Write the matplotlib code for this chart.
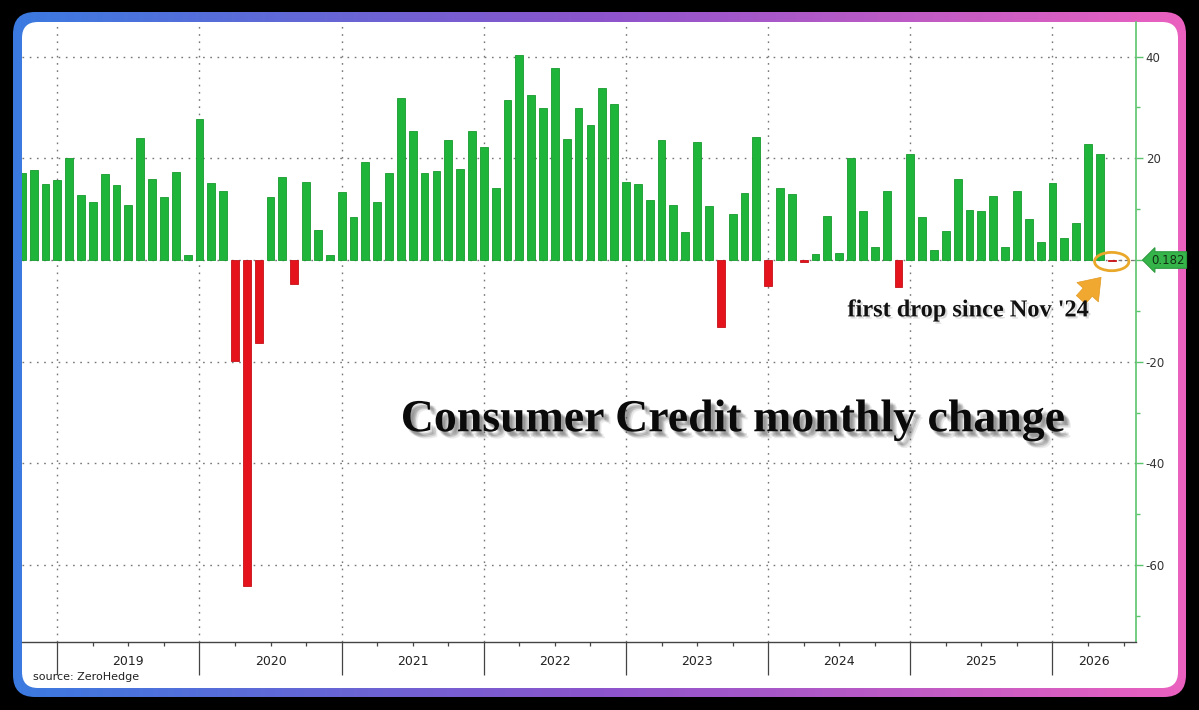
import numpy as np
import pandas as pd
import matplotlib
matplotlib.use("Agg")
import matplotlib.pyplot as plt
import matplotlib.transforms as mtransforms
import matplotlib.patheffects as pe
from matplotlib.patches import FancyBboxPatch, Ellipse

# ---------------- data ----------------
months = pd.period_range("2018-09", "2026-05", freq="M")
values = [
    17.1, 17.7, 15.0, 15.7,
    20.0, 12.7, 11.5, 16.9, 14.8, 10.9, 24.0, 15.9, 12.3, 17.4, 1.0, 27.8,
    15.2, 13.5, -19.8, -64.1, -16.3, 12.3, 16.4, -4.7, 15.4, 5.9, 1.0, 13.3,
    8.5, 19.2, 11.5, 17.2, 31.8, 25.3, 17.2, 17.5, 23.6, 17.8, 25.3, 22.3,
    14.2, 31.4, 40.4, 32.4, 29.9, 37.7, 23.7, 29.9, 26.6, 33.8, 30.6, 15.4,
    15.0, 11.9, 23.6, 10.9, 5.6, 23.3, 10.7, -13.1, 9.1, 13.2, 24.1, -5.1,
    14.2, 12.9, -0.3, 1.2, 8.6, 1.4, 20.0, 9.7, 2.5, 13.6, -5.4, 20.9,
    8.5, 2.0, 5.8, 16.0, 9.8, 9.7, 12.5, 2.5, 13.6, 8.1, 3.5, 15.1,
    4.4, 7.3, 22.8, 20.9, -0.182,
]
year_labels = ["2019", "2020", "2021", "2022", "2023", "2024", "2025", "2026"]
y_ticks = [40, 20, 0, -20, -40, -60]
y_tick_labels = ["40", "20", "", "-20", "-40", "-60"]
last_label = "0.182"
title = "Consumer Credit monthly change"
note = "first drop since Nov '24"
source = "source: ZeroHedge"

# ---------------- figure ----------------
W, H = 1199, 710
fig = plt.figure(figsize=(W / 100, H / 100), dpi=100, facecolor="black")

# background frame (pixel coordinates)
bg = fig.add_axes([0, 0, 1, 1], zorder=-10)
bg.set_xlim(0, W)
bg.set_ylim(H, 0)
bg.axis("off")
bg.add_patch(plt.Rectangle((0, 0), W, H, color="black"))
outer = FancyBboxPatch((13, 12), 1186 - 13, 697 - 12,
                       boxstyle="round,pad=0,rounding_size=22",
                       fc="none", ec="none")
bg.add_patch(outer)
grad_x = np.linspace(0, 1, 400)
c0 = np.array([0.23, 0.48, 0.88])
c1 = np.array([0.55, 0.33, 0.80])
c2 = np.array([0.92, 0.38, 0.75])
cols = np.where(grad_x[:, None] < 0.5,
                c0 + (c1 - c0) * (grad_x[:, None] / 0.5),
                c1 + (c2 - c1) * ((grad_x[:, None] - 0.5) / 0.5))
img = np.tile(cols[None, :, :], (10, 1, 1))
im = bg.imshow(img, extent=(13, 1186, 697, 12), aspect="auto", zorder=1)
im.set_clip_path(outer)
inner = FancyBboxPatch((22, 22), 1178 - 22, 688 - 22,
                       boxstyle="round,pad=0,rounding_size=16",
                       fc="white", ec="none", zorder=2)
bg.add_patch(inner)

# main axes
x_left_px, x_right_px, y_top_px, y_bot_px = 22, 1136, 22, 642
ax = fig.add_axes([x_left_px / W, 1 - y_bot_px / H,
                   (x_right_px - x_left_px) / W, (y_bot_px - y_top_px) / H])
ax.set_facecolor("none")

pos = np.array([(p.year - 2018) * 12 + p.month - 12 for p in months])
vals = np.array(values)
colors = np.where(vals >= 0, "#1fb53b", "#e5141c")
edges = np.where(vals >= 0, "#169a2c", "#c50f16")
ax.bar(pos, vals, width=0.66, color=colors, edgecolor=edges, linewidth=0.6, zorder=3)

ax.set_xlim(-2.98, 91.05)
ax.set_ylim(-75.1, 46.8)

for s in ["left", "top"]:
    ax.spines[s].set_visible(False)
ax.spines["bottom"].set_color("#444444")
ax.spines["bottom"].set_linewidth(1.0)
ax.spines["right"].set_color("#5cc46e")
ax.spines["right"].set_linewidth(1.2)

# y axis on the right
ax.yaxis.tick_right()
ax.set_yticks(y_ticks)
ax.set_yticklabels(y_tick_labels)
ax.set_yticks([30, 10, -10, -30, -50, -70], minor=True)
ax.tick_params(axis="y", which="major", colors="#5cc46e", length=5, width=1,
               labelcolor="#333333", labelsize=8.5, pad=2)
ax.tick_params(axis="y", which="minor", colors="#5cc46e", length=3, width=1)

# x axis
year_pos = np.arange(0, 85, 12)
ax.set_xticks(year_pos)
ax.set_xticklabels([])
ax.set_xticks([m for m in range(3, 91, 3) if m % 12 != 0], minor=True)
ax.tick_params(axis="x", which="major", length=24, width=0.9, colors="#444444")
ax.tick_params(axis="x", which="minor", length=3, width=0.9, colors="#444444")

label_pos = [m + 6 for m in year_pos[:-1]] + [(84 + 91.05) / 2]
for lp, lab in zip(label_pos, year_labels):
    ax.text(lp, -0.031, lab, transform=ax.get_xaxis_transform(),
            ha="center", va="center", fontsize=9, color="#222222",
            family="DejaVu Sans")

# grid
ax.grid(True, which="major", color="#777777", linestyle=(0, (1.2, 4.0)), linewidth=1.0)
ax.set_axisbelow(True)

# last value line + tag
last_m = pos[-1]
ax.hlines(0, last_m + 0.5, 91.05, colors="#777777", linestyles=(0, (3, 2)), linewidth=0.9, zorder=4)
trans = mtransforms.blended_transform_factory(ax.transAxes, ax.transData)
ax.annotate(last_label, xy=(1.0, 0), xycoords=trans, xytext=(11, 0),
            textcoords="offset points", ha="left", va="center",
            fontsize=8.5, color="#123012", annotation_clip=False,
            bbox=dict(boxstyle="larrow,pad=0.15", fc="#35b44a", ec="#2a9a3c", lw=0.8))

# highlight circle + arrow
ax.add_patch(Ellipse((last_m, -0.3), 2.9, 3.6, fill=False, ec="#eaa82a", lw=2.0, zorder=5,
                     clip_on=False))
ax.annotate("", xy=(last_m - 0.9, -3.4), xytext=(last_m - 2.6, -7.8),
            arrowprops=dict(arrowstyle="simple,head_width=1.3,head_length=0.9,tail_width=0.55",
                            fc="#f0a830", ec="#e39a22", lw=0.5, mutation_scale=16,
                            shrinkA=0, shrinkB=0), zorder=5)

shadow_small = [pe.SimplePatchShadow(offset=(1.5, -1.5), shadow_rgbFace="#999999", alpha=0.35),
                pe.Normal()]
ax.text(76.87, -10.0, note, ha="center", va="center", fontsize=17.5,
        fontweight="bold", family="Liberation Serif", color="#111111",
        path_effects=shadow_small, zorder=6)

shadow_big = [pe.SimplePatchShadow(offset=(o, -o2), shadow_rgbFace="#555555", alpha=0.12)
              for o, o2 in [(2, 2), (3, 3), (4, 4), (3, 4), (4, 3), (5, 5), (2, 3)]] + [pe.Normal()]
ax.text(57.1, -31.5, title, ha="center", va="center", fontsize=33,
        fontweight="bold", family="Liberation Serif", color="#0a0a0a",
        path_effects=shadow_big, zorder=6)

fig.text(33 / W, 1 - 677 / H, source, ha="left", va="center", fontsize=8,
         color="#222222", family="DejaVu Sans")

fig.savefig("out.png", dpi=100, facecolor="black")
